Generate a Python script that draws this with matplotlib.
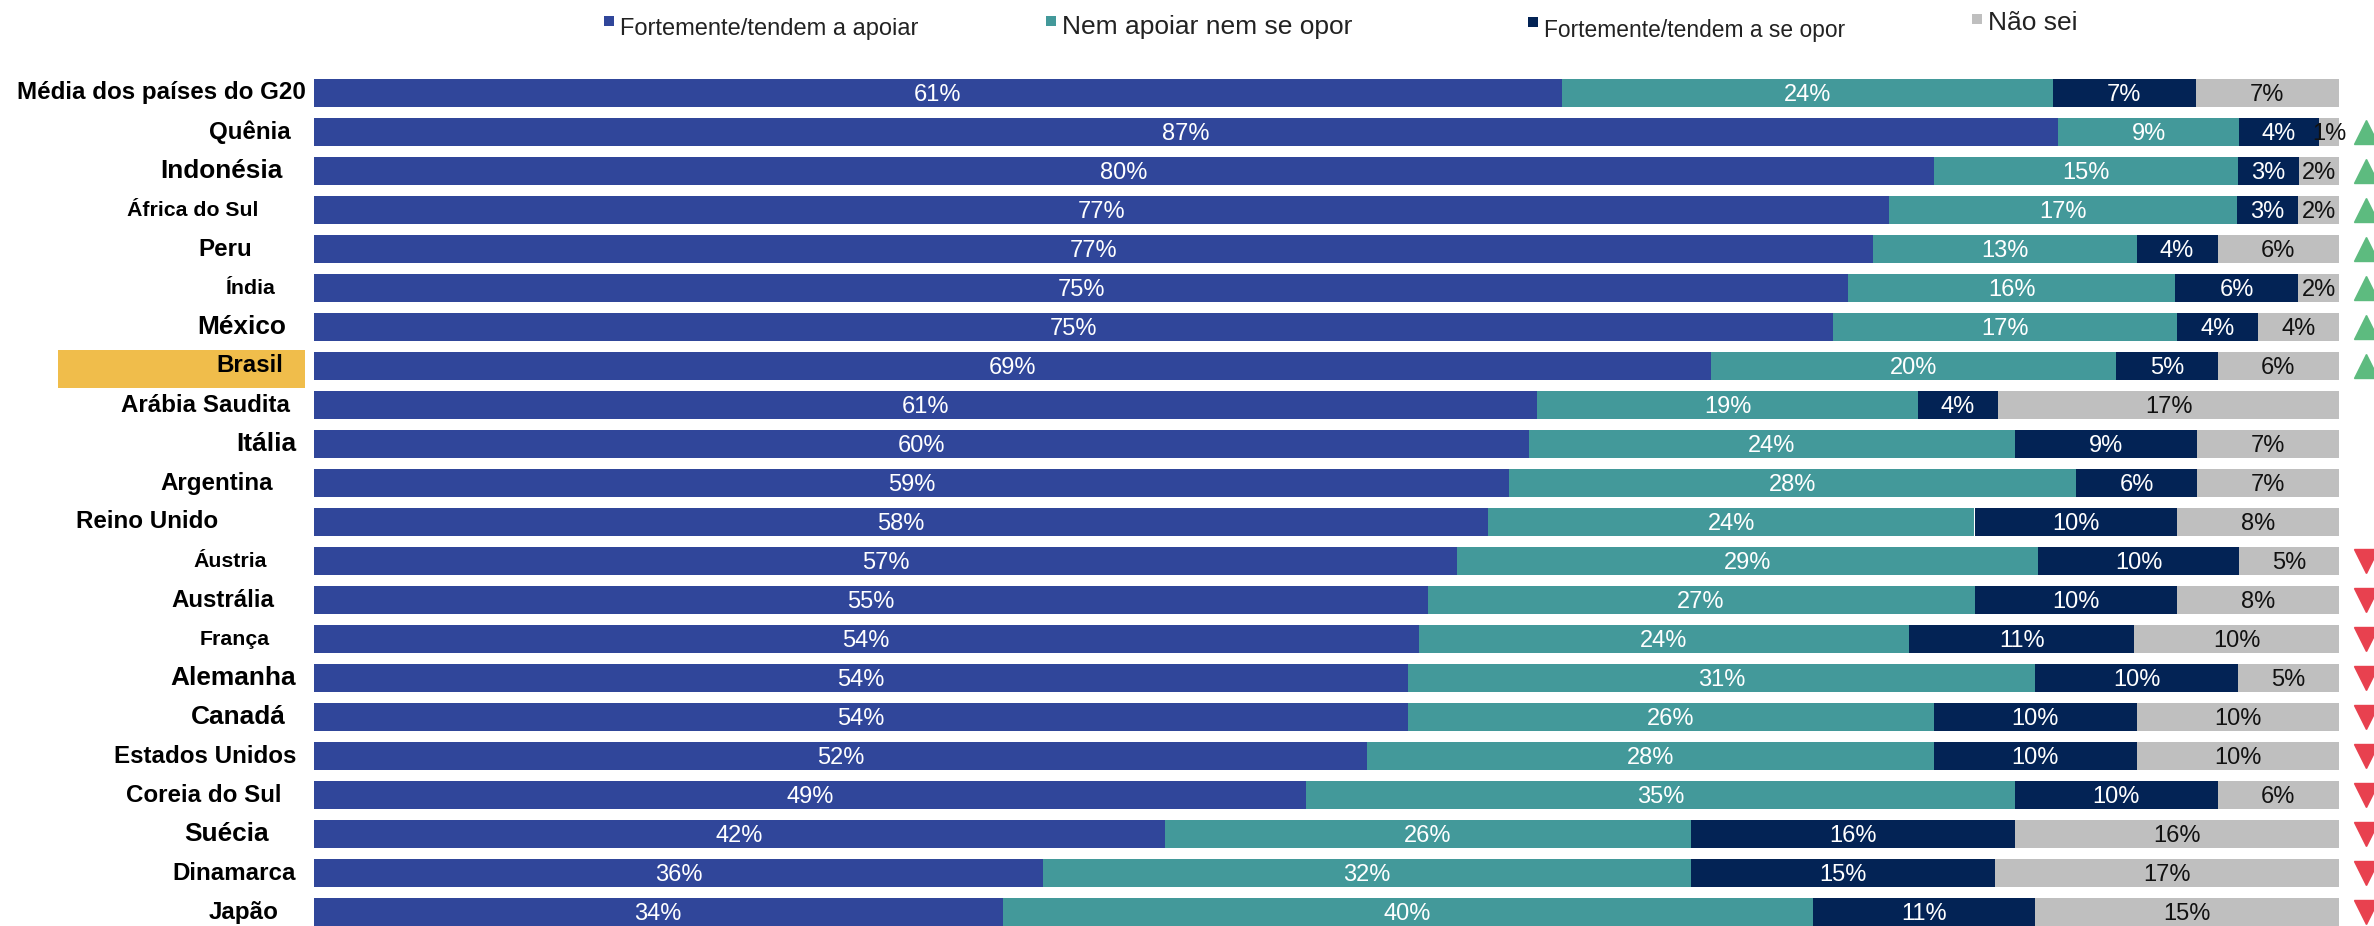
import numpy as np
import matplotlib.pyplot as plt
from matplotlib.transforms import blended_transform_factory

plt.rcParams['font.family'] = ['Liberation Sans', 'DejaVu Sans']

paises = ['Média dos países do G20', 'Quênia', 'Indonésia', 'África do Sul', 'Peru', 'Índia',
          'México', 'Brasil', 'Arábia Saudita', 'Itália', 'Argentina', 'Reino Unido', 'Áustria',
          'Austrália', 'França', 'Alemanha', 'Canadá', 'Estados Unidos', 'Coreia do Sul',
          'Suécia', 'Dinamarca', 'Japão']
apoiar = [61, 87, 80, 77, 77, 75, 75, 69, 61, 60, 59, 58, 57, 55, 54, 54, 54, 52, 49, 42, 36, 34]
neutro = [24, 9, 15, 17, 13, 16, 17, 20, 19, 24, 28, 24, 29, 27, 24, 31, 26, 28, 35, 26, 32, 40]
opor = [7, 4, 3, 3, 4, 6, 4, 5, 4, 9, 6, 10, 10, 10, 11, 10, 10, 10, 10, 16, 15, 11]
nao_sei = [7, 1, 2, 2, 6, 2, 4, 6, 17, 7, 7, 8, 5, 8, 10, 5, 10, 10, 6, 16, 17, 15]
# tendência: 1 = alta, -1 = queda, 0 = sem seta
tendencia = [0, 1, 1, 1, 1, 1, 1, 1, 0, 0, 0, 0, -1, -1, -1, -1, -1, -1, -1, -1, -1, -1]
legenda = ['Fortemente/tendem a apoiar', 'Nem apoiar nem se opor',
           'Fortemente/tendem a se opor', 'Não sei']

cores = ['#30469A', '#43999A', '#032355', '#BFBFBF']
cores_txt = ['white', 'white', 'white', '#111111']

# estilo dos rótulos (tamanho e borda direita em px) copiado do original
P, M, G = 15.3, 17.4, 18.9
rot_size = [M, M, G, P, M, P, G, M, M, G, M, M, P, M, P, G, G, M, M, G, M, M]
rot_right = [306, 291, 283, 258, 252, 276, 286, 283, 290, 296, 273, 218, 267,
             274, 270, 296, 286, 296, 281, 269, 296, 279]

W, H = 2374, 926
fig = plt.figure(figsize=(W / 100, H / 100), dpi=100)
x0, x1 = 314, 2339
ax = fig.add_axes([x0 / W, 0, (x1 - x0) / W, 1])

n = len(paises)
pitch, y_top = 39.0, 93.0
ax.set_ylim((H - y_top) / pitch, -y_top / pitch)
ax.set_xlim(0, 100)
ax.axis('off')

dados = np.array([apoiar, neutro, opor, nao_sei], dtype=float)
frac = dados / dados.sum(axis=0) * 100
y = np.arange(n)
left = np.zeros(n)
for k in range(4):
    ax.barh(y, frac[k], left=left, height=0.705, color=cores[k], linewidth=0)
    for i in range(n):
        ax.text(left[i] + frac[k][i] / 2, i + 0.04, f'{int(dados[k][i])}%', ha='center',
                va='center', fontsize=17, color=cores_txt[k])
    left += frac[k]

# destaque Brasil
ib = paises.index('Brasil')
trans = blended_transform_factory(fig.transFigure, ax.transData)
ax.add_patch(plt.Rectangle((58 / W, ib - 16 / pitch), 247 / W, 38 / pitch, transform=trans,
                           facecolor='#F0BD4B', edgecolor='none', clip_on=False, zorder=0))

for i, p in enumerate(paises):
    ax.text(rot_right[i] / W, i, p, transform=trans, ha='right', va='center',
            fontsize=rot_size[i], fontweight='bold', color='black')

for i, t in enumerate(tendencia):
    if t == 1:
        ax.plot(101.35, i, marker='^', markersize=17, color='#5DBB7F', clip_on=False)
    elif t == -1:
        ax.plot(101.35, i, marker='v', markersize=17, color='#E8414F', clip_on=False)

# legenda manual
leg_x = [604, 1046, 1528, 1972]
leg_y = [29, 27, 31, 23]
leg_mk = [21, 21, 22, 19]
leg_fs = [17, 19, 16.4, 19]
for j in range(4):
    fig.patches.append(plt.Rectangle((leg_x[j] / W, 1 - (leg_mk[j] + 5) / H), 10 / W, 10 / H,
                                     transform=fig.transFigure, facecolor=cores[j],
                                     edgecolor='none'))
    fig.text((leg_x[j] + 16) / W, 1 - leg_y[j] / H, legenda[j], ha='left', va='center',
             fontsize=leg_fs[j], color='#222222')

fig.savefig('out.png', dpi=100)
